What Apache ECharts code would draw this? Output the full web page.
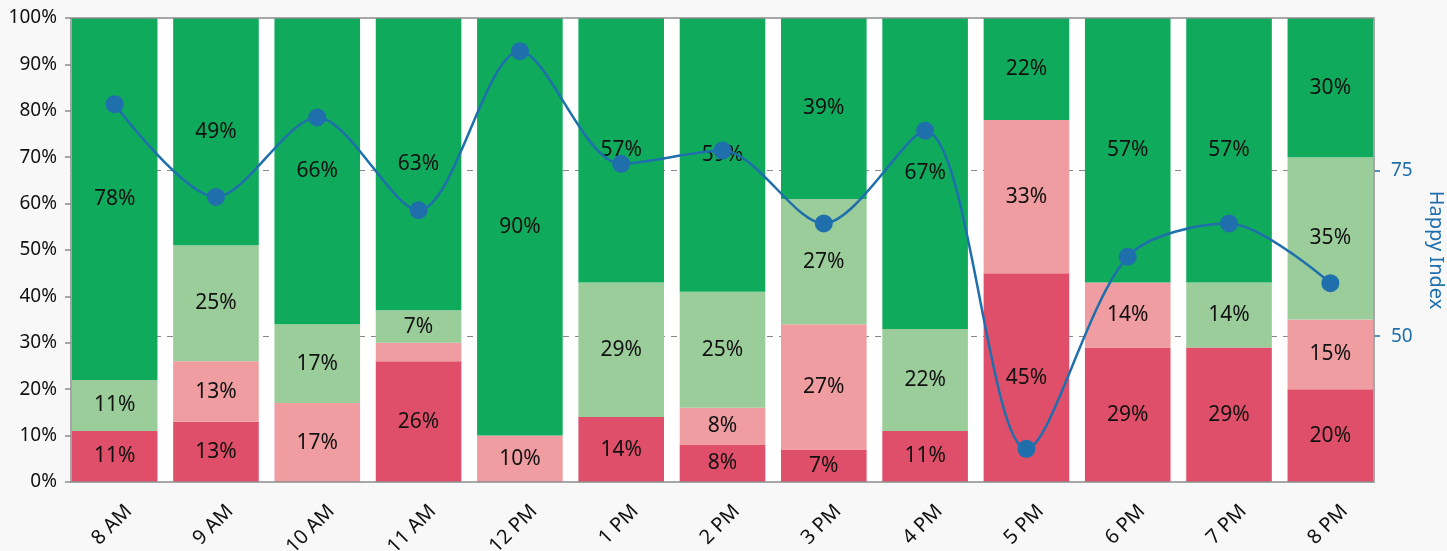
<!DOCTYPE html>
<html>
<head>
<meta charset="utf-8">
<script src="https://cdn.jsdelivr.net/npm/echarts@6/dist/echarts.min.js"></script>
<style>
  html, body { margin: 0; padding: 0; background: #f8f8f8; }
  #chart { width: 1447px; height: 551px; }
</style>
</head>
<body>
<div id="chart"></div>
<script>
var hours = ["8 AM", "9 AM", "10 AM", "11 AM", "12 PM", "1 PM", "2 PM", "3 PM", "4 PM", "5 PM", "6 PM", "7 PM", "8 PM"];

// share of answers per hour, bottom to top
var veryUnhappy = [11, 13, 0, 26, 0, 14, 8, 7, 11, 45, 29, 29, 20];
var unhappy     = [0, 13, 17, 4, 10, 0, 8, 27, 0, 33, 14, 0, 15];
var happy       = [11, 25, 17, 7, 0, 29, 25, 27, 22, 0, 0, 14, 35];
var veryHappy   = [78, 49, 66, 63, 90, 57, 59, 39, 67, 22, 57, 57, 30];

var happyIndex  = [85, 71, 83, 69, 93, 76, 78, 67, 81, 33, 62, 67, 58];

var indexTicks = [50, 75];
var pctRange = [0, 100];
var indexRange = [28, 98];

var fontName = "Noto Sans";
var lineColor = "#1f6fad";
var frameColor = "#8c8c8c";

// visible plot frame; bars sit in a slightly wider band area (grid 0)
var frame = { x: 71, y: 18, w: 1303, h: 464 };
var pad = 7;

function barSeries(name, data, color) {
    return {
        name: name,
        type: "bar",
        stack: "share",
        data: data,
        barCategoryGap: "15.5%",
        itemStyle: { color: color },
        label: {
            show: true,
            position: "inside",
            color: "#111",
            fontFamily: fontName,
            fontSize: 21,
            formatter: function (p) {
                if (p.value < 5) return "";
                return p.value + "%";
            }
        },
        z: 2
    };
}

function categoryAxis(pos, showLabel) {
    return {
        type: "category",
        gridIndex: 0,
        position: pos,
        data: hours,
        axisLine: { show: false },
        axisTick: { alignWithLabel: true, length: 6, lineStyle: { color: frameColor, width: 1.5 } },
        axisLabel: {
            show: showLabel, rotate: 45, color: "#111", fontSize: 20, fontFamily: fontName,
            margin: 12, verticalAlign: "top", padding: [10, 0, 0, 0]
        }
    };
}

var chart = echarts.init(document.getElementById("chart"));

var option = {
    backgroundColor: "#f8f8f8",
    animation: false,
    textStyle: { fontFamily: fontName },
    grid: [
        {
            left: frame.x - pad,
            right: 1447 - (frame.x + frame.w + pad),
            top: frame.y,
            bottom: 551 - (frame.y + frame.h),
            outerBoundsMode: "none"
        },
        {
            left: frame.x,
            right: 1447 - (frame.x + frame.w),
            top: frame.y,
            bottom: 551 - (frame.y + frame.h),
            outerBoundsMode: "none",
            show: true, backgroundColor: "#ffffff", borderWidth: 0
        }
    ],
    xAxis: [
        categoryAxis("bottom", true),
        categoryAxis("top", false),
        { type: "value", gridIndex: 1, min: 0, max: 1, show: false }
    ],
    yAxis: [
        // axes the series are drawn on
        { type: "value", gridIndex: 0, min: pctRange[0], max: pctRange[1], show: false },
        { type: "value", gridIndex: 0, min: indexRange[0], max: indexRange[1], show: false },
        // the same scales shown on the frame
        {
            type: "value", gridIndex: 1, position: "left",
            min: pctRange[0], max: pctRange[1], interval: 10,
            axisLine: { show: false },
            axisTick: { show: true, length: 6, lineStyle: { color: frameColor, width: 1.5 } },
            axisLabel: { color: "#111", fontSize: 19, fontFamily: fontName, margin: 14,
                formatter: function (v) { return v + "%"; } },
            splitLine: { show: false }
        },
        {
            type: "value", gridIndex: 1, position: "right",
            min: indexRange[0], max: indexRange[1],
            name: "Happy Index",
            nameLocation: "middle",
            nameRotate: -90,
            nameGap: 52,
            nameMoveOverlap: false,
            nameTextStyle: { color: lineColor, fontSize: 20, fontFamily: fontName },
            axisLine: { show: false },
            axisTick: { show: true, length: 6, customValues: indexTicks, lineStyle: { color: lineColor, width: 1.5 } },
            axisLabel: { color: lineColor, fontSize: 19, fontFamily: fontName, margin: 17, customValues: indexTicks },
            splitLine: { show: true, lineStyle: { color: "#888", type: [6, 6], width: 1 } }
        }
    ],
    series: [
        barSeries("Very unhappy", veryUnhappy, "#e04f69"),
        barSeries("Unhappy", unhappy, "#ef9da1"),
        barSeries("Happy", happy, "#9bcd9b"),
        barSeries("Very happy", veryHappy, "#10aa5c"),
        {
            name: "Happy Index",
            type: "line",
            xAxisIndex: 0,
            yAxisIndex: 1,
            data: happyIndex,
            smooth: 0.3,
            symbol: "circle",
            symbolSize: 18,
            lineStyle: { color: lineColor, width: 2.5 },
            itemStyle: { color: lineColor },
            z: 10
        }
    ],
    graphic: [
        {
            type: "rect", silent: true, z: 50,
            shape: { x: frame.x, y: frame.y, width: frame.w, height: frame.h },
            style: { fill: null, stroke: frameColor, lineWidth: 1.5 }
        }
    ]
};

chart.setOption(option);
</script>
</body>
</html>
